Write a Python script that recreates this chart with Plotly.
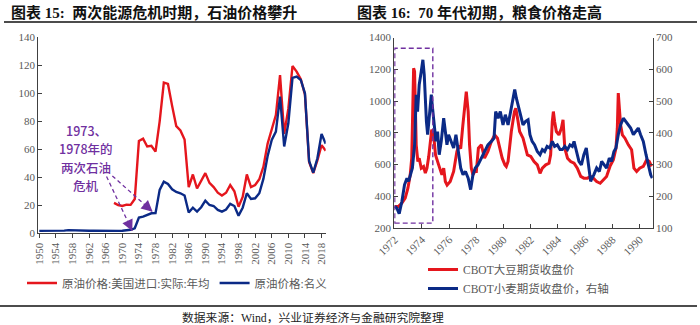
import plotly.graph_objects as go

# ---------------- data: crude oil (annual) ----------------
oil_years = list(range(1950, 2020))
oil_nominal = [
    1.7, 1.7, 1.7, 1.8, 1.8, 1.8, 1.9, 2.3, 2.1, 1.9,
    1.8, 1.8, 1.8, 1.8, 1.7, 1.7, 1.7, 1.7, 1.7, 1.7,
    1.8, 2.2, 2.5, 3.6, 11.2, 11.9, 13.1, 14.3, 14.4, 31.0,
    36.9, 35.2, 31.4, 29.5, 28.6, 27.0, 14.8, 18.3, 15.5, 18.6,
    23.3, 20.2, 19.5, 16.7, 15.5, 17.0, 21.0, 19.5, 12.6, 18.3,
    28.6, 24.5, 25.0, 28.6, 39.0, 55.0, 66.7, 72.6, 97.6, 62.0,
    78.6, 111.0, 112.0, 109.5, 100.0, 51.7, 43.3, 53.6, 71.0, 64.0,
]
oil_real_years = list(range(1968, 2020))
oil_real = [
    21.7, 20.2, 19.5, 20.5, 20.3, 24.5, 66.0, 67.6, 62.0, 62.5,
    58.3, 80.0, 107.6, 106.7, 91.0, 76.5, 73.5, 67.0, 33.0, 42.0,
    32.0, 37.0, 43.0, 36.0, 33.0, 29.0, 27.0, 29.0, 34.5, 30.0,
    19.0, 26.0, 42.0, 33.0, 34.5, 38.6, 47.6, 64.0, 75.0, 84.5,
    113.0, 71.0, 89.0, 119.5, 115.5, 110.0, 99.0, 51.0, 43.0, 52.0,
    63.0, 59.0,
]
oil_ticks = list(range(1950, 2019, 4))
crisis_lines = ["1973、", "1978年的", "两次石油", "危机"]

# ---------------- data: CBOT futures (decimal year, cents/bushel) ----------------
soy_t = [
    1972.00, 1972.28, 1972.53, 1972.77, 1972.97, 1973.14, 1973.25, 1973.32, 1973.39, 1973.46,
    1973.52, 1973.58, 1973.70, 1973.80, 1973.95, 1974.12, 1974.25, 1974.37, 1974.50, 1974.62,
    1974.72, 1974.86, 1975.00, 1975.23, 1975.47, 1975.60, 1975.72, 1975.85, 1976.08, 1976.33,
    1976.57, 1976.72, 1976.85, 1977.00, 1977.12, 1977.26, 1977.40, 1977.50, 1977.63, 1977.75,
    1977.88, 1978.00, 1978.15, 1978.37, 1978.60, 1978.85, 1979.10, 1979.35, 1979.55, 1979.70,
    1979.90, 1980.10, 1980.20, 1980.33, 1980.57, 1980.80, 1980.90, 1981.05, 1981.18, 1981.43,
    1981.55, 1981.75, 1982.00, 1982.24, 1982.48, 1982.68, 1982.85, 1983.10, 1983.34, 1983.46,
    1983.58, 1983.66, 1983.75, 1983.88, 1984.07, 1984.25, 1984.37, 1984.50, 1984.70, 1984.93,
    1985.18, 1985.42, 1985.67, 1985.90, 1986.16, 1986.40, 1986.60, 1986.84, 1987.10, 1987.33,
    1987.57, 1987.82, 1988.07, 1988.26, 1988.36, 1988.43, 1988.50, 1988.60, 1988.73, 1988.92,
    1989.17, 1989.41, 1989.58, 1989.78, 1990.00, 1990.27, 1990.52, 1990.71, 1990.88,
]
soy_price = [
    336, 336, 357, 388, 451, 535, 640, 997, 1207, 1186,
    997, 724, 619, 640, 577, 588, 546, 577, 650, 760,
    820, 787, 661, 598, 535, 577, 493, 470, 493, 556,
    682, 720, 700, 840, 960, 1060, 934, 724, 577, 535,
    556, 556, 703, 724, 640, 682, 745, 787, 766, 703,
    640, 598, 588, 619, 808, 934, 955, 880, 808, 766,
    724, 661, 651, 619, 598, 545, 577, 598, 608, 661,
    871, 934, 871, 808, 787, 829, 882, 703, 640, 619,
    608, 577, 525, 514, 514, 525, 514, 493, 482, 503,
    525, 588, 630, 703, 829, 1050, 934, 850, 787, 766,
    724, 693, 577, 556, 577, 588, 630, 619, 588,
]
wheat_t = [
    1972.00, 1972.15, 1972.33, 1972.53, 1972.72, 1972.90, 1973.02, 1973.14, 1973.30, 1973.46,
    1973.58, 1973.68, 1973.80, 1973.95, 1974.07, 1974.17, 1974.25, 1974.33, 1974.42, 1974.54,
    1974.69, 1974.78, 1974.90, 1975.03, 1975.15, 1975.27, 1975.42, 1975.60, 1975.72, 1975.84,
    1975.96, 1976.15, 1976.33, 1976.50, 1976.65, 1976.85, 1977.02, 1977.20, 1977.40, 1977.58,
    1977.75, 1977.92, 1978.12, 1978.37, 1978.60, 1978.85, 1979.10, 1979.30, 1979.42, 1979.60,
    1979.76, 1979.96, 1980.13, 1980.33, 1980.52, 1980.70, 1980.82, 1980.94, 1981.06, 1981.26,
    1981.43, 1981.62, 1981.80, 1981.94, 1982.10, 1982.28, 1982.48, 1982.68, 1982.85, 1983.02,
    1983.20, 1983.40, 1983.58, 1983.75, 1983.95, 1984.15, 1984.32, 1984.50, 1984.70, 1984.88,
    1985.05, 1985.18, 1985.35, 1985.54, 1985.72, 1985.90, 1986.08, 1986.23, 1986.40, 1986.50,
    1986.64, 1986.84, 1987.04, 1987.21, 1987.38, 1987.57, 1987.77, 1987.94, 1988.11, 1988.26,
    1988.43, 1988.60, 1988.80, 1988.99, 1989.17, 1989.34, 1989.54, 1989.73, 1989.90, 1990.07,
    1990.27, 1990.47, 1990.64, 1990.81, 1990.93,
]
wheat_price = [
    168, 163, 145, 184, 236, 257, 247, 268, 289, 362,
    520, 467, 551, 593, 630, 583, 499, 436, 394, 446,
    520, 478, 415, 373, 404, 331, 373, 446, 404, 362,
    394, 373, 352, 394, 352, 289, 268, 278, 257, 221,
    268, 289, 299, 320, 341, 362, 373, 383, 467, 446,
    467, 425, 457, 425, 467, 509, 536, 509, 488, 457,
    425, 436, 441, 394, 373, 362, 341, 331, 347, 341,
    357, 352, 373, 357, 362, 347, 347, 357, 347, 362,
    357, 373, 341, 310, 299, 331, 352, 310, 247, 257,
    268, 289, 278, 310, 299, 289, 320, 310, 341, 352,
    394, 425, 446, 436, 425, 415, 394, 404, 415, 394,
    373, 331, 299, 268, 257,
]
cbot_ticks = list(range(1972, 1991, 2))

# ---------------- styling ----------------
RED = "#E5161D"
BLUE = "#0B2A86"
PURPLE = "#7030A0"
AXIS = "#404040"
TICK_TXT = "#595959"
SERIF = "Liberation Serif, Noto Sans CJK SC, serif"
CJK = "Noto Sans CJK SC, sans-serif"
W, H = 700, 325


def px_x(p):
    return p / W


def px_y(p):
    return 1 - p / H


fig = go.Figure()

fig.add_trace(go.Scatter(
    x=oil_real_years, y=oil_real, mode="lines", name="原油价格:美国进口:实际:年均",
    line=dict(color=RED, width=2.4), xaxis="x", yaxis="y", legend="legend",
))
fig.add_trace(go.Scatter(
    x=oil_years, y=oil_nominal, mode="lines", name="原油价格:名义",
    line=dict(color=BLUE, width=2.4), xaxis="x", yaxis="y", legend="legend",
))
fig.add_trace(go.Scatter(
    x=soy_t, y=soy_price, mode="lines", name="CBOT大豆期货收盘价",
    line=dict(color=RED, width=3.0), xaxis="x2", yaxis="y2", legend="legend2",
))
fig.add_trace(go.Scatter(
    x=wheat_t, y=wheat_price, mode="lines", name="CBOT小麦期货收盘价，右轴",
    line=dict(color=BLUE, width=3.0), xaxis="x2", yaxis="y3", legend="legend2",
))

axis_common = dict(
    showline=True, linecolor=AXIS, linewidth=1, showgrid=False, zeroline=False,
    ticks="inside", ticklen=4, tickcolor=AXIS, tickwidth=1, automargin=False,
    tickfont=dict(family=SERIF, size=11, color=TICK_TXT),
)

fig.update_layout(
    template="none",
    width=W, height=H, margin=dict(l=0, r=0, t=0, b=0, autoexpand=False),
    paper_bgcolor="white", plot_bgcolor="white",
    xaxis=dict(domain=[px_x(38.3), px_x(325.7)], range=[1949.76, 2019.0],
               tickmode="array", tickvals=oil_ticks, tickangle=-90, anchor="y",
               **{**axis_common, "ticks": "outside"}),
    yaxis=dict(domain=[px_y(233.3), px_y(37.3)], range=[0, 140], dtick=20,
               anchor="x", **axis_common),
    xaxis2=dict(domain=[px_x(394.3), px_x(652.7)], range=[1971.97, 1990.96],
                tickmode="array", tickvals=cbot_ticks, tickangle=-45, anchor="y2",
                **axis_common),
    yaxis2=dict(domain=[px_y(228.0), px_y(37.6)], range=[200, 1400], dtick=200,
                anchor="x2", **axis_common),
    yaxis3=dict(domain=[px_y(228.0), px_y(37.6)], range=[100, 700], dtick=100,
                anchor="x2", overlaying="y2", side="right", **axis_common),
    legend=dict(orientation="h", x=px_x(22), y=px_y(283), xanchor="left", yanchor="middle",
                font=dict(family=SERIF, size=11.5, color=TICK_TXT),
                bgcolor="rgba(0,0,0,0)", itemwidth=30),
    legend2=dict(orientation="v", x=px_x(423), y=px_y(279), xanchor="left", yanchor="middle",
                 font=dict(family=SERIF, size=11.5, color=TICK_TXT),
                 bgcolor="rgba(0,0,0,0)", itemwidth=30),
    showlegend=True,
)

# titles, rules and source note
fig.add_annotation(text="<b>图表 15:  两次能源危机时期，石油价格攀升</b>", xref="paper", yref="paper",
                   x=px_x(9), y=px_y(12), xanchor="left", yanchor="middle", showarrow=False,
                   align="left", font=dict(family=SERIF, size=15, color="#111111"))
fig.add_annotation(text="<b>图表 16:  70 年代初期，粮食价格走高</b>", xref="paper", yref="paper",
                   x=px_x(355), y=px_y(12), xanchor="left", yanchor="middle", showarrow=False,
                   align="left", font=dict(family=SERIF, size=15, color="#111111"))
fig.add_shape(type="line", xref="paper", yref="paper", x0=px_x(4), x1=px_x(697),
              y0=px_y(22), y1=px_y(22), line=dict(color="#111111", width=1.3))
fig.add_shape(type="line", xref="paper", yref="paper", x0=px_x(0), x1=px_x(697),
              y0=px_y(306), y1=px_y(306), line=dict(color="#111111", width=1.3))
fig.add_annotation(text="数据来源：Wind，兴业证券经济与金融研究院整理", xref="paper", yref="paper",
                   x=px_x(180), y=px_y(318), xanchor="left", yanchor="middle", showarrow=False,
                   align="left", font=dict(family=SERIF, size=11.8, color="#222222"))

# oil-crisis callout, one annotation per line
for i, line_txt in enumerate(crisis_lines):
    fig.add_annotation(text=line_txt, xref="paper", yref="paper",
                       x=px_x(86), y=px_y(130 + 18.6 * i), xanchor="center", yanchor="middle",
                       showarrow=False, align="center",
                       font=dict(family=CJK, size=12.5, color=PURPLE, weight=500))
callouts = [((1966.2, 40.6), (1972.4, 1.6)), ((1967.6, 41.0), (1977.3, 15.4))]
for (x0, y0), (x1, y1) in callouts:
    fig.add_shape(type="line", xref="x", yref="y", x0=x0, y0=y0, x1=x1, y1=y1,
                  line=dict(color=PURPLE, width=1.3, dash="4px,3px"))
    # arrow head: short annotation arrow aligned with the dashed segment
    dxp = (x1 - x0) * 4.153
    dyp = -(y1 - y0) * 1.4
    n = (dxp ** 2 + dyp ** 2) ** 0.5
    fig.add_annotation(x=x1, y=y1, xref="x", yref="y", ax=-dxp / n * 9, ay=-dyp / n * 9,
                       text="", showarrow=True, arrowhead=2, arrowsize=1.6,
                       arrowwidth=1.4, arrowcolor=PURPLE)

# early-1970s highlight box
fig.add_shape(type="rect", xref="x2", yref="y2", x0=1972.0, x1=1974.8, y0=231, y1=1333,
              line=dict(color=PURPLE, width=1.4, dash="5px,3px"))

fig.write_html("out.html")
